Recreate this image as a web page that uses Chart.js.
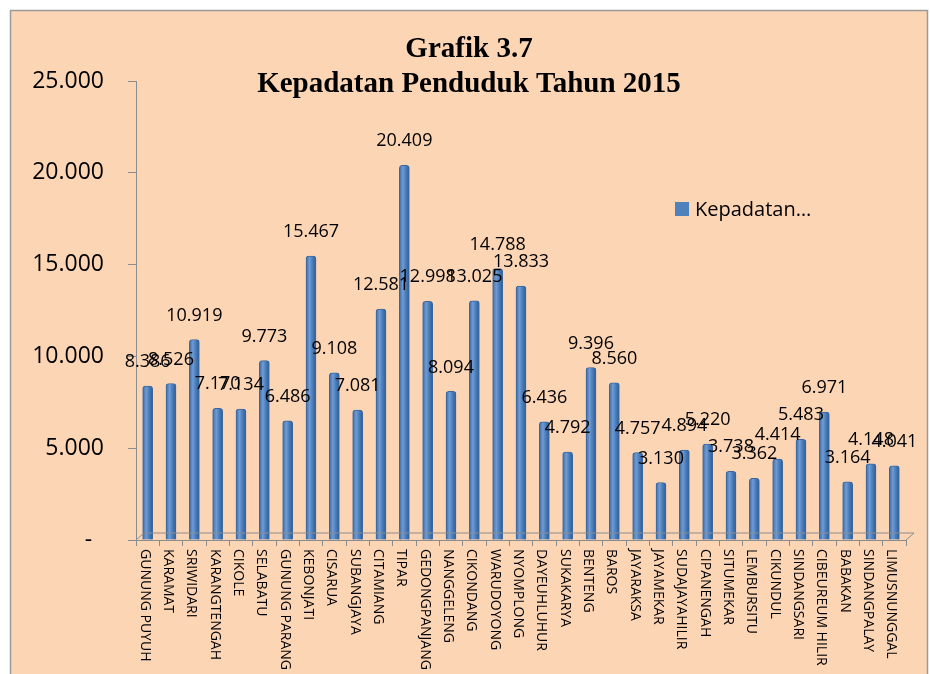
<!DOCTYPE html>
<html>
<head>
<meta charset="utf-8">
<script src="https://cdn.jsdelivr.net/npm/chart.js@4/dist/chart.umd.min.js"></script>
<style>
  html, body { margin: 0; padding: 0; background: #fff; }
  #wrap { position: absolute; left: 0; top: 0; width: 930px; height: 674px; }
</style>
</head>
<body>
<div id="wrap"><canvas id="myChart" width="930" height="674"></canvas></div>
<script>
// kelurahan
var categories = ['GUNUNG PUYUH', 'KARAMAT', 'SRIWIDARI', 'KARANGTENGAH', 'CIKOLE', 'SELABATU',
  'GUNUNG PARANG', 'KEBONJATI', 'CISARUA', 'SUBANGJAYA', 'CITAMIANG', 'TIPAR', 'GEDONGPANJANG',
  'NANGGELENG', 'CIKONDANG', 'WARUDOYONG', 'NYOMPLONG', 'DAYEUHLUHUR', 'SUKAKARYA', 'BENTENG',
  'BAROS', 'JAYARAKSA', 'JAYAMEKAR', 'SUDAJAYAHILIR', 'CIPANENGAH', 'SITUMEKAR', 'LEMBURSITU',
  'CIKUNDUL', 'SINDANGSARI', 'CIBEUREUM HILIR', 'BABAKAN', 'SINDANGPALAY', 'LIMUSNUNGGAL'];

// kepadatan penduduk (jiwa/km2) 2015
var kepadatan = [8386, 8526, 10919, 7170, 7134, 9773, 6486, 15467, 9108, 7081, 12581, 20409, 12998,
  8094, 13025, 14788, 13833, 6436, 4792, 9396, 8560, 4757, 3130, 4894, 5220, 3738, 3362,
  4414, 5483, 6971, 3164, 4148, 4041];

var seriesLabel = 'Kepadatan\u2026';
var titleLines = ['Grafik 3.7', 'Kepadatan Penduduk Tahun 2015'];
var yTicks = [0, 5000, 10000, 15000, 20000, 25000];

function fmt(v) {
  return String(v).replace(/\B(?=(\d{3})+(?!\d))/g, '.');
}

var BLUE = '#4F81BD';
var GREY = '#8C8C8C';

// background frame, title, legend, 3d floor, labels
var decor = {
  id: 'decor',
  beforeDraw: function (chart) {
    var c = chart.ctx;
    c.save();
    c.fillStyle = '#ffffff';
    c.fillRect(0, 0, chart.width, chart.height);
    c.fillStyle = '#FCD5B5';
    c.fillRect(10, 10, 917, 700);
    c.strokeStyle = '#9A9A9A';
    c.lineWidth = 1.5;
    c.strokeRect(10.5, 10.5, 917, 700);
    c.restore();
  },
  afterDraw: function (chart) {
    var c = chart.ctx;
    var a = chart.chartArea;
    var xs = chart.scales.x;
    c.save();
    // floor
    c.strokeStyle = GREY;
    c.lineWidth = 1;
    c.beginPath();
    c.moveTo(a.left, a.bottom);
    c.lineTo(a.left + 8, a.bottom - 7);
    c.lineTo(a.right + 8, a.bottom - 7);
    c.lineTo(a.right, a.bottom);
    c.stroke();
    // title
    c.fillStyle = '#000';
    c.textAlign = 'center';
    c.textBaseline = 'alphabetic';
    c.font = 'bold 29px "Liberation Serif", "Times New Roman", serif';
    c.fillText(titleLines[0], 469, 57);
    c.fillText(titleLines[1], 469, 92);
    // legend
    c.fillStyle = BLUE;
    c.fillRect(675, 202, 14, 14);
    c.fillStyle = '#000';
    c.textAlign = 'left';
    c.textBaseline = 'middle';
    c.font = '20px "Open Sans", sans-serif';
    c.fillText(chart.data.datasets[0].label, 695, 210);
    // category labels, rotated clockwise
    c.font = '14px "Open Sans", sans-serif';
    chart.data.labels.forEach(function (lab, i) {
      var x = xs.getPixelForValue(i);
      c.save();
      c.translate(x - 3, 549);
      c.rotate(Math.PI / 2);
      c.textAlign = 'left';
      c.textBaseline = 'middle';
      c.fillText(lab, 0, 0);
      c.restore();
    });
    c.restore();
  },
  afterDatasetsDraw: function (chart) {
    var c = chart.ctx;
    var meta = chart.getDatasetMeta(0);
    var vals = chart.data.datasets[0].data;
    c.save();
    c.fillStyle = '#000';
    c.textAlign = 'center';
    c.textBaseline = 'middle';
    c.font = '18px "Open Sans", sans-serif';
    meta.data.forEach(function (el, i) {
      c.fillText(fmt(vals[i]), el.x, el.y - 24);
    });
    c.restore();
  }
};

function barFill(ctx) {
  var chart = ctx.chart;
  if (!chart.chartArea || ctx.dataIndex === undefined) return BLUE;
  var x = chart.scales.x.getPixelForValue(ctx.dataIndex);
  var g = chart.ctx.createLinearGradient(x - 5, 0, x + 5, 0);
  g.addColorStop(0, '#3A6AA5');
  g.addColorStop(0.35, '#6E9CD6');
  g.addColorStop(0.6, '#4F81BD');
  g.addColorStop(1, '#2E5C94');
  return g;
}

var ctx = document.getElementById('myChart');
var myChart = new Chart(ctx, {
  type: 'bar',
  data: {
    labels: categories,
    datasets: [{
      label: seriesLabel,
      data: kepadatan,
      backgroundColor: barFill,
      borderColor: '#3B679E',
      borderWidth: 1,
      borderRadius: { topLeft: 3, topRight: 3 },
      borderSkipped: 'bottom',
      barThickness: 10
    }]
  },
  options: {
    responsive: false,
    animation: false,
    layout: { padding: { top: 81, right: 24, bottom: 0, left: 0 } },
    plugins: {
      legend: { display: false },
      tooltip: { enabled: false },
      title: { display: false }
    },
    scales: {
      x: {
        offset: true,
        afterFit: function (s) { s.height = 134; },
        ticks: { display: false },
        grid: {
          offset: true,
          drawOnChartArea: false,
          drawTicks: true,
          tickLength: 6,
          color: GREY
        },
        border: { color: GREY, width: 1 }
      },
      y: {
        min: 0,
        max: 25000,
        afterFit: function (s) { s.width = 136; },
        afterBuildTicks: function (s) {
          s.ticks = yTicks.map(function (v) { return { value: v }; });
        },
        ticks: {
          padding: 24,
          color: '#000',
          font: { family: '"Open Sans", sans-serif', size: 23 },
          callback: function (v) { return v === 0 ? '-  ' : fmt(v); }
        },
        grid: {
          drawOnChartArea: false,
          drawTicks: true,
          tickLength: 8,
          color: GREY
        },
        border: { color: GREY, width: 1 }
      }
    }
  },
  plugins: [decor]
});
</script>
</body>
</html>
